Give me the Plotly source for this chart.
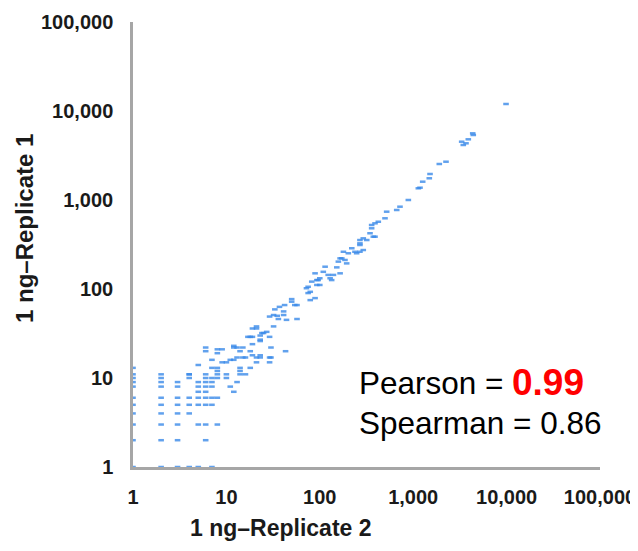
import plotly.graph_objects as go

# Replicate 2 (x) / Replicate 1 (y) read counts
rep2 = [
    1, 2, 3, 4, 5, 7,
    1, 2, 3, 6,
    1, 2, 3, 5, 6, 8,
    1, 2, 3, 4,
    1, 2, 3, 4, 5, 6, 7,
    1, 2, 3, 4, 5, 6, 7, 8,
    5, 6,
    1, 2, 3, 5, 6, 7,
    1, 2, 3, 5, 6, 7,
    1, 2, 4, 6, 7,
    1, 2, 4, 6,
    1,
    4, 5, 6, 6, 9, 7, 9, 12, 13, 14, 11, 12, 13, 15, 14, 14, 16, 18, 19, 19,
    21, 23, 23, 21, 23, 25, 27, 29, 29, 18, 32, 33, 35, 36, 41, 44, 43, 42, 50, 54,
    41, 7, 8, 10, 10, 14, 8, 8, 10, 17, 21, 23, 24, 30, 30, 11, 12, 13, 16, 8, 8,
    50, 75, 75, 82, 93, 93, 89, 109, 123, 129, 134, 152, 165, 179, 172, 186, 194,
    220, 238, 269, 269, 292, 318, 292, 345, 390, 359, 359, 390, 423, 499, 520,
    202, 269, 100,
    666, 722, 887, 1135, 1183, 1264, 1487, 1514, 1903, 2245, 3304, 3437, 3676,
    3890, 4336, 4397, 9860,
    57, 57, 89, 79, 72, 100, 114, 29, 18, 21,
    374, 269, 248, 165, 158, 140, 96, 79, 37, 32, 29, 19, 19, 15, 12, 8, 23,
]
rep1 = [
    1, 1, 1, 1, 1, 1,
    2, 2, 2, 2,
    3, 3, 3, 3, 3, 3,
    4, 4, 4, 4,
    5, 5, 5, 5, 5, 5, 5,
    6, 6, 6, 6, 6, 6, 6, 6,
    7, 7,
    8, 8, 8, 8, 8, 8,
    9, 9, 9, 9, 9, 9,
    10, 10, 10, 10, 10,
    11, 11, 11, 11,
    13,
    11, 14, 22, 20, 21, 16, 15, 23, 22, 20, 16, 16, 17, 17, 13, 12, 17, 20, 24, 18,
    36, 30, 27, 17, 17, 32, 33, 17, 15, 13, 38, 59, 50, 46, 51, 45, 20, 66, 72, 66,
    56, 13, 12, 11, 10, 11, 13, 11, 15, 29, 15, 18, 32, 22, 17, 8, 7, 9, 11, 10, 19,
    77, 90, 106, 121, 111, 126, 150, 156, 144, 132, 126, 175, 150, 262, 221, 212, 194,
    287, 262, 312, 355, 371, 355, 274, 423, 387, 481, 524, 547, 570, 623, 739,
    252, 262, 132,
    772, 841, 1000, 1353, 1375, 1606, 1754, 1960, 2538, 2693, 4519, 4150, 4336,
    4808, 5613, 5374, 11990,
    66, 46, 79, 93, 102, 111, 178, 29, 29, 38,
    387, 326, 252, 221, 203, 144, 126, 75, 63, 51, 49, 36, 29, 22, 22, 21, 26,
]

tick_vals = [1, 10, 100, 1000, 10000, 100000]
tick_text = ["1", "10", "100", "1,000", "10,000", "100,000"]

x_title = "1 ng–Replicate 2"
y_title = "1 ng–Replicate 1"
pearson_label = "Pearson ="
pearson_value = "0.99"
spearman_label = "Spearman = 0.86"

FONT = "Liberation Sans, Arial, sans-serif"
OFF = 8  # page body margin in the browser
W, H = 638 - OFF, 551 - OFF
# plot area in screen pixels: x 133..600, y 22..467
SL, SR, ST, SB = 133, 600, 22, 467
L, T = SL - OFF, ST - OFF
R = W - (SR - OFF)
B = H - (SB - OFF)
pw, ph = SR - SL, SB - ST


def px(x):
    return (x - SL) / pw


def py(y):
    return (SB - y) / ph


fig = go.Figure()
fig.add_trace(go.Scatter(
    x=rep2, y=rep1, mode="markers", cliponaxis=False,
    marker=dict(symbol="line-ew", size=4,
                line=dict(width=2.5, color="rgba(58,138,232,0.8)")),
    hoverinfo="x+y",
))

axis_common = dict(
    type="log", range=[0, 5], tickvals=tick_vals, ticktext=tick_text,
    showgrid=False, zeroline=False, showline=True, linecolor="#a6a6a6",
    linewidth=2.5, ticks="", automargin=False,
    tickfont=dict(family=FONT, size=20, color="#1a1a1a", weight="bold"),
)
fig.update_xaxes(**axis_common, ticklabelstandoff=10)
fig.update_yaxes(**axis_common, ticklabelstandoff=13)

annotations = [
    dict(text=x_title, x=px(281), y=py(528), xref="paper", yref="paper",
         xanchor="center", yanchor="middle", showarrow=False,
         font=dict(family=FONT, size=23, color="#1a1a1a", weight="bold")),
    dict(text=y_title, x=px(24), y=py(229), xref="paper", yref="paper",
         xanchor="center", yanchor="middle", showarrow=False, textangle=-90,
         font=dict(family=FONT, size=24, color="#1a1a1a", weight="bold")),
    dict(text=pearson_label, x=px(357), y=py(383), xref="paper", yref="paper",
         xanchor="left", yanchor="middle", showarrow=False,
         font=dict(family=FONT, size=31.5, color="#000000")),
    dict(text=pearson_value, x=px(510), y=py(382), xref="paper", yref="paper",
         xanchor="left", yanchor="middle", showarrow=False,
         font=dict(family=FONT, size=37, color="#ff0000", weight="bold")),
    dict(text=spearman_label, x=px(357), y=py(423), xref="paper", yref="paper",
         xanchor="left", yanchor="middle", showarrow=False,
         font=dict(family=FONT, size=31.5, color="#000000")),
]

fig.update_layout(
    width=W, height=H, autosize=False,
    margin=dict(l=L, r=R, t=T, b=B),
    paper_bgcolor="white", plot_bgcolor="white",
    showlegend=False, annotations=annotations,
)

fig.write_html("out.html")
